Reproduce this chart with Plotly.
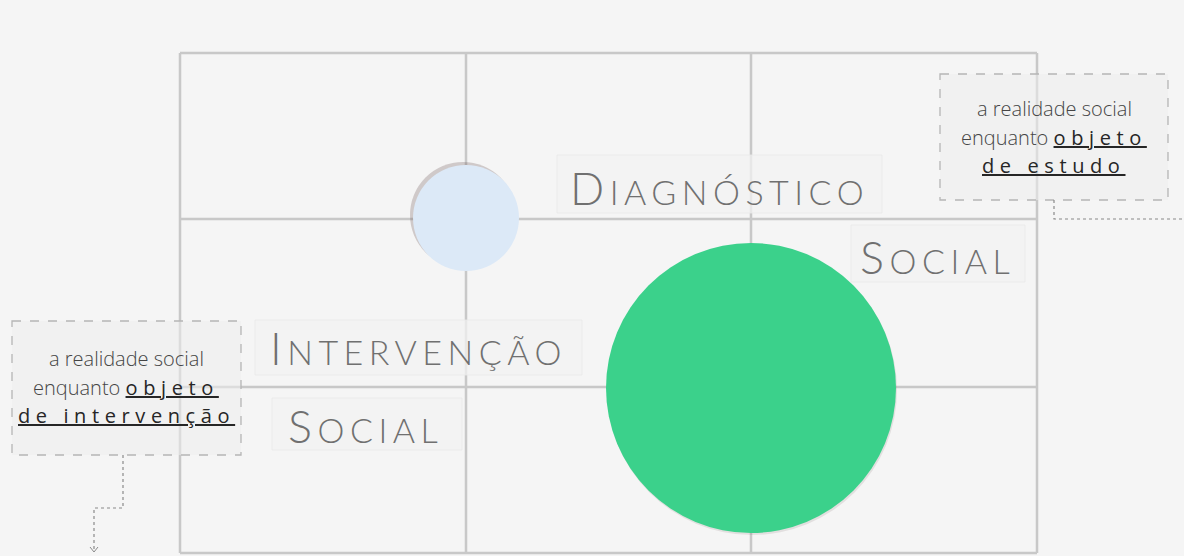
import plotly.graph_objects as go

# ---- diagram content ----
grid_cols = [180, 466, 751, 1037]
grid_rows = [53, 219, 387, 553]

circle_names = ["pequeno", "grande"]
circle_cx = [466, 751]
circle_cy = [218, 388]
circle_r = [53, 145]
circle_colors = ["#dce9f7", "#3bd18b"]

title_words = ["DIAGNÓSTICO", "SOCIAL", "INTERVENÇÃO", "SOCIAL"]
title_x = [719, 937, 418, 365]
title_y = [188, 257, 348, 426]
title_boxes = [(557, 155, 882, 213), (851, 225, 1025, 282), (255, 320, 582, 375), (272, 398, 462, 450)]

note_boxes = [(940, 74, 1168, 200), (12, 321, 241, 455)]
note_lines = [
    ["a realidade social", "enquanto <u>objeto</u>", "<u>de estudo</u>"],
    ["a realidade social", "enquanto <u>objeto</u>", "<u>de intervenção</u>"],
]
note_cx = [1054, 126]
note_ys = [[108, 137, 165], [358, 387, 415]]

W, H = 1184, 556
BG = "#f5f5f5"

fig = go.Figure()
shapes = []
annotations = []

# grid
for x in grid_cols:
    shapes.append(dict(type="line", x0=x, x1=x, y0=grid_rows[0], y1=grid_rows[-1],
                       line=dict(color="#c8c8c8", width=2.5), layer="below"))
for y in grid_rows:
    shapes.append(dict(type="line", x0=grid_cols[0], x1=grid_cols[-1], y0=y, y1=y,
                       line=dict(color="#c8c8c8", width=2.5), layer="below"))

# title label backgrounds
for (x0, y0, x1, y1) in title_boxes:
    shapes.append(dict(type="rect", x0=x0, x1=x1, y0=y0, y1=y1,
                       fillcolor="rgba(242,242,242,0.75)", line=dict(color="rgba(232,232,232,0.8)", width=1)))

# circles with shadows
shadow_off = [(-3, -3), (1, 2)]
shadow_alpha = [0.3, 0.15]
for i in range(len(circle_cx)):
    cx, cy, r = circle_cx[i], circle_cy[i], circle_r[i]
    dx, dy = shadow_off[i]
    shapes.append(dict(type="circle", x0=cx - r + dx, x1=cx + r + dx, y0=cy - r + dy, y1=cy + r + dy,
                       fillcolor=f"rgba(120,100,100,{shadow_alpha[i]})", line=dict(width=0)))
    shapes.append(dict(type="circle", x0=cx - r, x1=cx + r, y0=cy - r, y1=cy + r,
                       fillcolor=circle_colors[i], line=dict(width=0)))

# note boxes
for (x0, y0, x1, y1) in note_boxes:
    shapes.append(dict(type="rect", x0=x0, x1=x1, y0=y0, y1=y1,
                       fillcolor="rgba(236,236,236,0.55)",
                       line=dict(color="#b5b5b5", width=1.3, dash="dash")))

# dotted connectors
conn = dict(color="#8a8a8a", width=1.2, dash="dot")
shapes.append(dict(type="path", path="M 1054 200 L 1054 219 L 1184 219", line=conn))
shapes.append(dict(type="path", path="M 123 455 L 123 508 L 94 508 L 94 551", line=conn))
shapes.append(dict(type="path", path="M 90 547 L 94 552 L 98 547", line=dict(color="#8a8a8a", width=1)))

# title texts (small caps style)
for w, x, y in zip(title_words, title_x, title_y):
    txt = f"<span style='font-size:45px;letter-spacing:5.5px'>{w[0]}</span><span style='letter-spacing:5.5px'>{w[1:]}</span>"
    annotations.append(dict(x=x, y=y, text=txt, showarrow=False, xanchor="center", yanchor="middle",
                            font=dict(family="Lato", size=34, color="#707070", weight=300)))

# note texts
sp = "letter-spacing:5.6px;font-size:20px;font-weight:400;fill:#262626"
for k in range(len(note_lines)):
    for j, line in enumerate(note_lines[k]):
        if j == 0:
            txt = line
        elif j == 1:
            txt = f'enquanto <span style="{sp}"><u>objeto</u></span>'
        else:
            txt = f'<span style="{sp}">{line}</span>'
        annotations.append(dict(x=note_cx[k], y=note_ys[k][j], text=txt, showarrow=False,
                                xanchor="center", yanchor="middle",
                                font=dict(family="Open Sans", size=20, color="#454545", weight=300)))

fig.update_layout(
    width=W, height=H,
    margin=dict(l=0, r=0, t=0, b=0),
    paper_bgcolor=BG, plot_bgcolor=BG,
    xaxis=dict(range=[0, W], visible=False, fixedrange=True),
    yaxis=dict(range=[H, 0], visible=False, fixedrange=True),
    shapes=shapes, annotations=annotations, showlegend=False,
)
fig.write_html("out.html", config={"displayModeBar": False},
               post_script="document.body.style.margin='0';document.body.style.overflow='hidden';document.body.style.background='#f5f5f5';")
